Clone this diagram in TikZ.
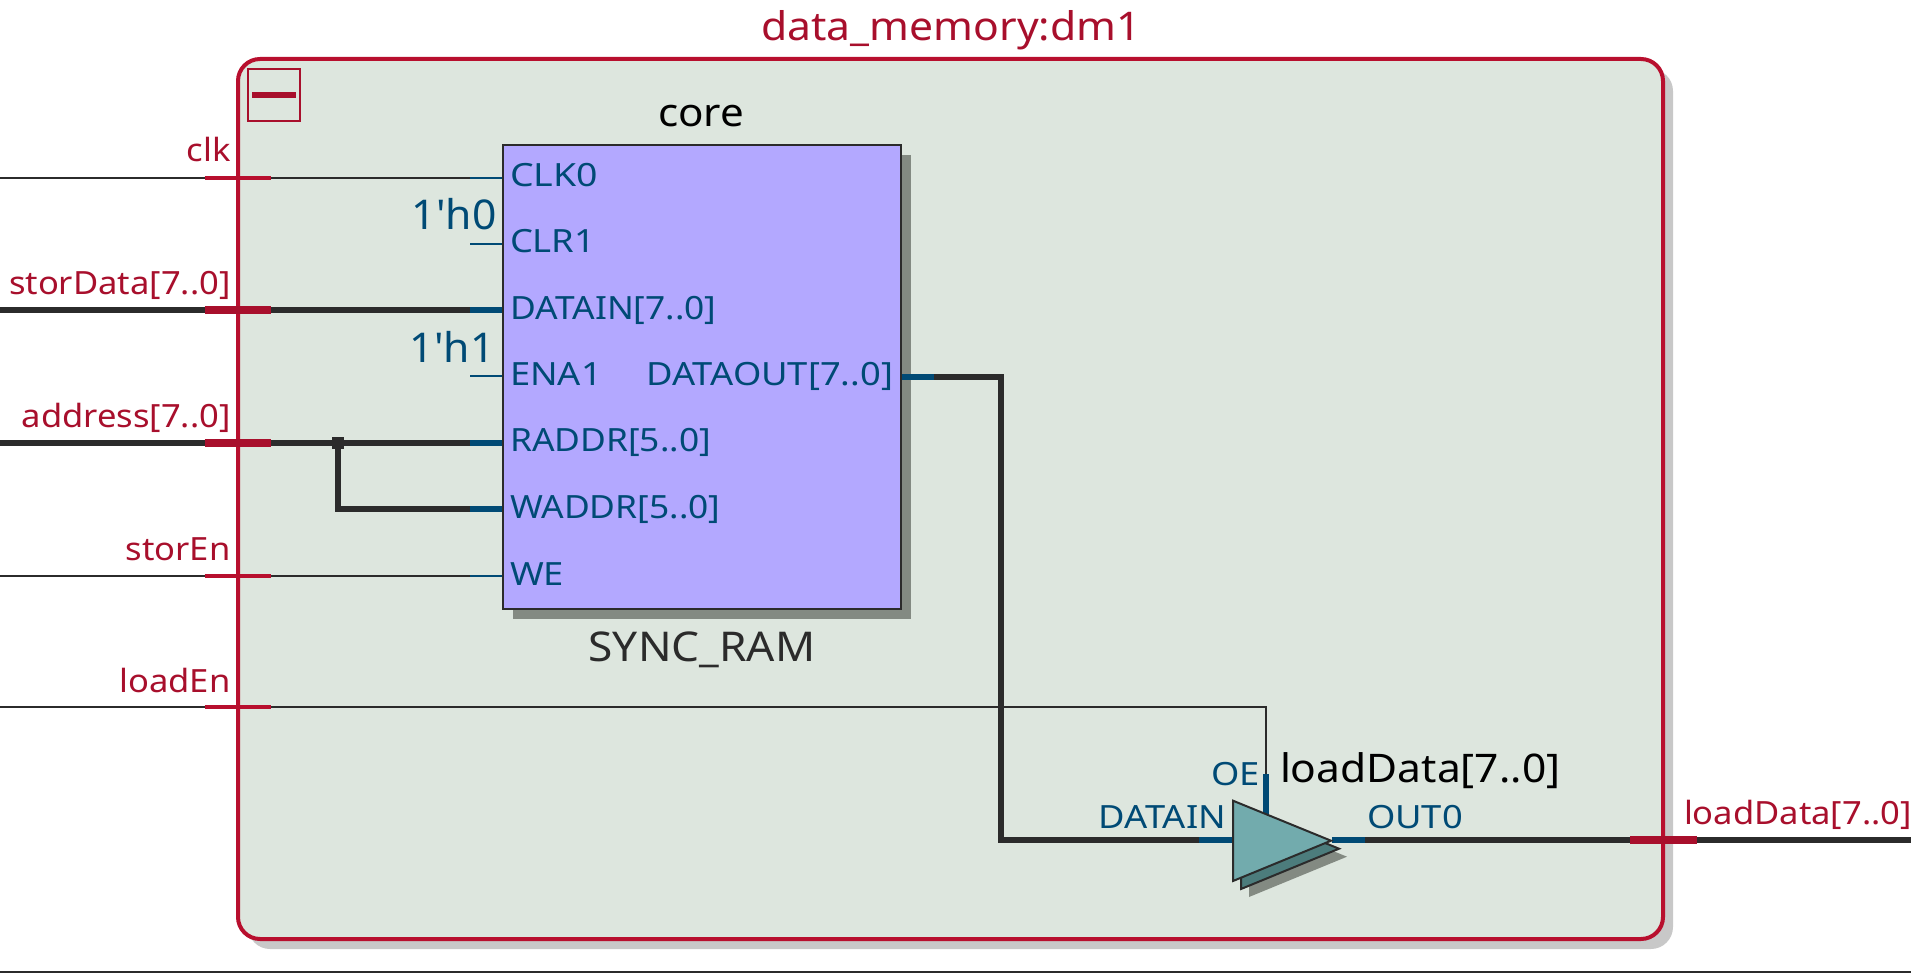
\documentclass[tikz,border=0pt]{standalone}
\usepackage{fontspec}
\setmainfont{Noto Sans}[FakeStretch=1.08]
\newfontfamily\pinfont{Noto Sans}[FakeStretch=1.135]
\newfontfamily\pinfontb{Noto Sans}[FakeStretch=1.105]
\newfontfamily\pinfontw{Noto Sans}[FakeStretch=1.17]
\newfontfamily\constfont{Noto Sans}[FakeStretch=1.04]
\usetikzlibrary{calc}
\definecolor{framered}{HTML}{B80F2E}
\definecolor{labelred}{HTML}{A80F2C}
\definecolor{pinblue}{HTML}{004A75}
\definecolor{wiredark}{HTML}{2B2B2B}
\definecolor{framefill}{HTML}{DDE6DE}
\definecolor{frameshadow}{HTML}{C8C8C8}
\definecolor{ramfill}{HTML}{B3A8FF}
\definecolor{boxshadow}{HTML}{838A82}
\definecolor{trifront}{HTML}{72ABAD}
\definecolor{triback}{HTML}{4C7C7C}
\tikzset{
  thinwire/.style={draw=wiredark,line width=2pt},
  thickwire/.style={draw=wiredark,line width=6pt},
  thinpin/.style={draw=pinblue,line width=2pt},
  thickpin/.style={draw=pinblue,line width=6pt},
  thintick/.style={draw=framered,line width=4pt},
  thicktick/.style={draw=labelred,line width=8pt},
  txt/.style={inner sep=0pt,outer sep=0pt,font=\fontsize{32}{38}\selectfont},
  pinlabel/.style={txt,text=pinblue,font=\pinfont\fontsize{32}{38}\selectfont},
  pinlabelb/.style={txt,text=pinblue,font=\pinfontb\fontsize{32}{38}\selectfont},
  pinlabelw/.style={txt,text=pinblue,font=\pinfontw\fontsize{32}{38}\selectfont},
  portlabel/.style={txt,text=labelred,anchor=base east},
  constlabel/.style={txt,text=pinblue,anchor=base east,font=\constfont\fontsize{41}{48}\selectfont},
  tricorner/.style={draw=wiredark,line width=2pt,line join=miter},
}
\begin{document}
\begin{tikzpicture}[x=1pt,y=-1pt]
\useasboundingbox (0,0) rectangle (1911,973);
% frame
\fill[frameshadow,rounded corners=22pt] (248,69) rectangle (1673,949);
\path[fill=framefill,draw=framered,line width=4pt,rounded corners=22pt] (238,59) rectangle (1663,939);
\node[txt,text=labelred,anchor=base,font=\fontsize{39.5}{48}\selectfont] (title) at (951,41) {data\_memory:dm1};
% collapse button
\draw[labelred,line width=2pt] (248,69) rectangle (300,121);
\fill[labelred] (252,92) rectangle (296,98);
% bottom rule
\coordinate (ruleL) at (0,972);
\coordinate (ruleR) at (1911,972);
\draw[thinwire] (ruleL) -- (ruleR);
% RAM
\fill[boxshadow] (513,155) rectangle (911,619);
\node[draw=wiredark,line width=2pt,fill=ramfill,minimum width=398pt,minimum height=464pt,inner sep=0pt,outer sep=0pt,anchor=north west] (ram) at (503,145) {};
\node[txt,text=black,anchor=base,font=\fontsize{39}{46}\selectfont] (corelbl) at (701,127) {core};
\node[txt,text=wiredark,anchor=base,font=\fontsize{41}{48}\selectfont] (ramlbl) at (702,661) {SYNC\_RAM};
% port coordinates
\foreach \n/\y in {clk/178,clr/244,dat/310,ena/376.5,rad/442.7,wad/508.7,we/575.5}{
  \coordinate (\n In) at (0,\y);
  \coordinate (\n Stub) at (470,\y);
  \coordinate (\n Pin) at (ram.west |- 0,\y);
  \coordinate (\n TA) at (204.5,\y);
  \coordinate (\n TB) at (270.5,\y);
}
\coordinate (loadIn) at (0,707);
\coordinate (loadTA) at (204.5,707);
\coordinate (loadTB) at (270.5,707);
\coordinate (oeTurn) at (1266,707);
\coordinate (oeStub) at (1266,774);
\coordinate (oePin) at (1266,814);
\coordinate (jct) at (338,442.7);
\coordinate (jctB) at (338,508.7);
\coordinate (doutPin) at (ram.east |- 0,376.6);
\coordinate (doutStub) at (934,376.6);
\coordinate (doutTurn) at (1000.6,376.6);
\coordinate (triTurn) at (1000.6,840.2);
\coordinate (triStub) at (1199,840.2);
\coordinate (triA) at (1233,800.7);
\coordinate (triB) at (1233,881);
\coordinate (triC) at (1331,840.7);
\coordinate (triIn) at (1233,840.2);
\coordinate (outPin) at (1332,840.2);
\coordinate (outStub) at (1365,840.2);
\coordinate (outTA) at (1630,840.2);
\coordinate (outTB) at (1696.5,840.2);
\coordinate (outEnd) at (1911,840.2);
% wires
\draw[thinwire] (clkIn) -- (clkStub);
\draw[thickwire] (datIn) -- (datStub);
\draw[thickwire] (radIn) -- (radStub);
\draw[thinwire] (weIn) -- (weStub);
\draw[thinwire] (loadIn) -- (oeTurn) -- (oeStub);
\draw[thickwire,line join=miter] (jct) -- (jctB) -- (wadStub);
\fill[wiredark] (332,437) rectangle (344,449);
\draw[thickwire,line join=miter] (doutStub) -- (doutTurn) -- (triTurn) -- (triStub);
\draw[thickwire] (outStub) -- (outEnd);
% pin stubs
\foreach \n in {clk,clr,ena,we}{\draw[thinpin] (\n Stub) -- (\n Pin);}
\foreach \n in {dat,rad,wad}{\draw[thickpin] (\n Stub) -- (\n Pin);}
\draw[thickpin] (doutPin) -- (doutStub);
\draw[thickpin] (triStub) -- (triIn);
\draw[thickpin] (outPin) -- (outStub);
\draw[thickpin] (oeStub) -- (oePin);
% redraw RAM border over stubs
\draw[wiredark,line width=2pt] (ram.north west) rectangle (ram.south east);
% port ticks
\foreach \n in {clk,we}{\draw[thintick] (\n TA) -- (\n TB);}
\draw[thintick] (loadTA) -- (loadTB);
\foreach \n in {dat,rad}{\draw[thicktick] (\n TA) -- (\n TB);}
\draw[thicktick] (outTA) -- (outTB);
% triangle
\fill[boxshadow] ($(triA)+(16,16)$) -- ($(triC)+(16,16)$) -- ($(triB)+(16,16)$) -- cycle;
\path[fill=triback,tricorner] ($(triA)+(8,8)$) -- ($(triC)+(8,8)$) -- ($(triB)+(8,8)$) -- cycle;
\path[fill=trifront,tricorner] (triA) -- (triC) -- (triB) -- cycle;
% port labels
\node[portlabel] (lclk) at (230.5,162) {clk};
\node[portlabel] (lstor) at (230.5,295) {storData[7..0]};
\node[portlabel] (laddr) at (230.5,427.5) {address[7..0]};
\node[portlabel] (lsen) at (230.5,560) {storEn};
\node[portlabel] (llen) at (230.5,692) {loadEn};
\node[txt,text=labelred,anchor=base west] (lout) at (1684,824) {loadData[7..0]};
% constants
\node[constlabel] (c0) at (496.5,229.3) {1'h0};
\node[constlabel] (c1) at (494.5,362.7) {1'h1};
% pin labels
\node[pinlabelw,anchor=base west] (pclk) at (510,187) {CLK0};
\node[pinlabel,anchor=base west] (pclr) at (510,252.7) {CLR1};
\node[pinlabelb,anchor=base west] (pdat) at (510,320) {DATAIN[7..0]};
\node[pinlabel,anchor=base west] (pena) at (510,385.7) {ENA1};
\node[pinlabelb,anchor=base west] (prad) at (510,451.7) {RADDR[5..0]};
\node[pinlabelb,anchor=base west] (pwad) at (510,518) {WADDR[5..0]};
\node[pinlabel,anchor=base west] (pwe) at (510,585) {WE};
\node[pinlabel,anchor=base east] (pdout) at (893,385.7) {DATAOUT[7..0]};
\node[pinlabel,anchor=base east] (poe) at (1260,785) {OE};
\node[pinlabel,anchor=base east] (pdin) at (1226,828) {DATAIN};
\node[pinlabel,anchor=base west] (pout) at (1367,828) {OUT0};
\node[txt,text=black,anchor=base west,font=\fontsize{39.4}{46}\selectfont] (ltri) at (1280,782.7) {loadData[7..0]};
\end{tikzpicture}
\end{document}
